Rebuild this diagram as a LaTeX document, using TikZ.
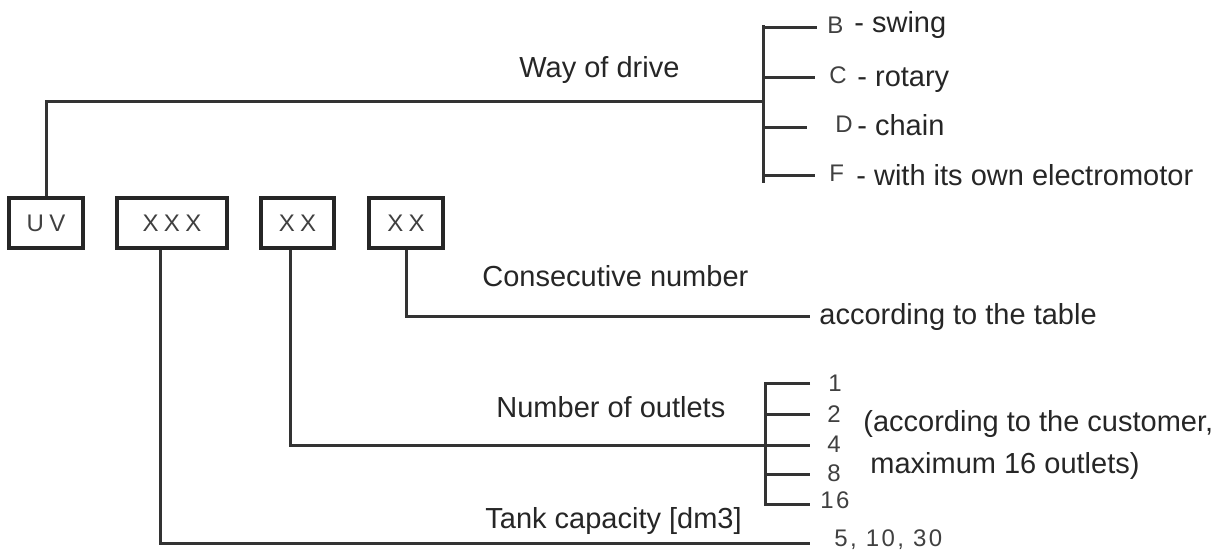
\documentclass[tikz,border=0pt]{standalone}
\usepackage{fontspec}
\setmainfont{Liberation Sans}

\begin{document}
\begin{tikzpicture}[x=0.5pt,y=-0.5pt]
      \tikzstyle{codebox}=[rectangle,draw=black!85,line width=1.6pt,minimum height=25pt,inner sep=0pt,text=black!75,font=\fontsize{12}{14}\selectfont\addfontfeature{LetterSpace=22}]
      \tikzstyle{txt}=[anchor=base west,inner sep=0pt,text=black!85,font=\fontsize{14.5}{17}\selectfont]
      \tikzstyle{tag}=[anchor=west,inner sep=0pt,text=black!75,font=\fontsize{12}{14}\selectfont\addfontfeature{LetterSpace=10}]
      \tikzstyle{wire}=[draw=black!80,line width=1.5pt]
      \useasboundingbox (0,0) rectangle (1229,554);
      \node[codebox,minimum width=37pt] (uv) at (46, 223) {UV};
      \node[codebox,minimum width=55pt] (cap) at (172, 223) {XXX};
      \node[codebox,minimum width=36.5pt] (outl) at (297.5, 223) {XX};
      \node[codebox,minimum width=37pt] (num) at (406, 223) {XX};
      \node[txt] (drive) at (519, 77) {Way of drive};
      \node[txt] (cons) at (482, 286) {Consecutive number};
      \node[txt] (table) at (819, 324) {according to the table};
      \node[txt] (nout) at (496, 417) {Number of outlets};
      \node[txt] (tankcap) at (485, 528) {Tank capacity [dm3]};
      \node[txt] (cust) at (863, 431) {(according to the customer,};
      \node[txt] (maxout) at (870, 473) {maximum 16 outlets)};
      \node[tag] (kb) at (827, 25) {B};
      \node[tag] (kc) at (829, 75) {C};
      \node[tag] (kd) at (835, 124) {D};
      \node[tag] (kf) at (829, 173) {F};
      \node[txt] (swing) at (854, 32) {- swing};
      \node[txt] (rotary) at (857, 86) {- rotary};
      \node[txt] (chain) at (857, 135) {- chain};
      \node[txt] (motor) at (856, 185) {- with its own electromotor};
      \node[tag] (n1) at (828, 383) {1};
      \node[tag] (n2) at (827, 414) {2};
      \node[tag] (n4) at (827, 444) {4};
      \node[tag] (n8) at (827, 473) {8};
      \node[tag] (n16) at (820, 500) {16};
      \node[tag] (vol) at (834, 540) {5, 10, 30};
      \coordinate (drv) at (763, 101);
      \coordinate (dtop) at (763, 25);
      \coordinate (dbot) at (763, 183);
      \coordinate (tb) at (817, 27);
      \coordinate (tc) at (815, 77);
      \coordinate (td) at (807, 127);
      \coordinate (tf) at (815, 175);
      \coordinate (tbl) at (810, 316);
      \coordinate (otop) at (765, 383);
      \coordinate (obot) at (765, 504);
      \coordinate (o1) at (810, 383);
      \coordinate (o2) at (810, 414);
      \coordinate (o4) at (810, 445);
      \coordinate (o8) at (810, 474);
      \coordinate (o16) at (810, 504);
      \coordinate (tank) at (810, 543);
      \draw[wire] (uv.north) |- (drv);
      \draw[wire] (dtop) -- (dbot);
      \draw[wire] (dtop |- tb) -- (tb);
      \draw[wire] (dtop |- tc) -- (tc);
      \draw[wire] (dtop |- td) -- (td);
      \draw[wire] (dtop |- tf) -- (tf);
      \draw[wire] (num.south) |- (tbl);
      \draw[wire] ([xshift=-3.75pt]outl.south) |- (o4);
      \draw[wire] (o1) -- (otop) -- (obot) -- (o16);
      \draw[wire] (otop |- o2) -- (o2);
      \draw[wire] (otop |- o8) -- (o8);
      \draw[wire] ([xshift=-6pt]cap.south) |- (tank);
    \end{tikzpicture}
\end{document}
